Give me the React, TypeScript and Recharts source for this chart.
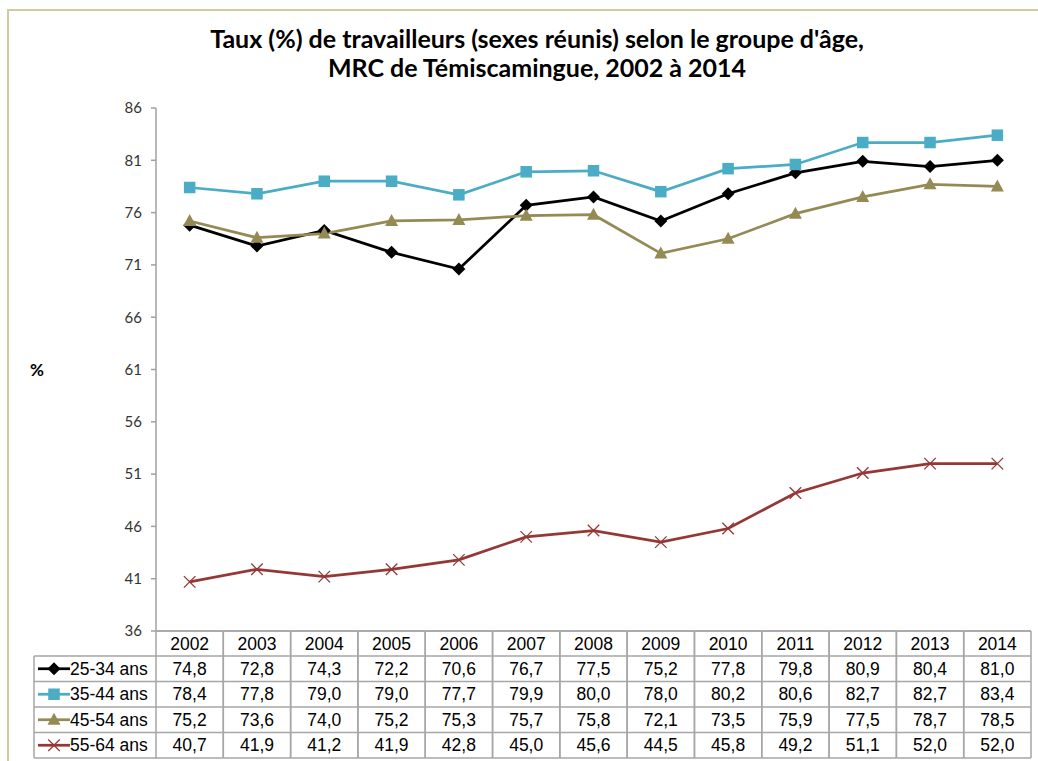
import React from 'react';
import { LineChart, Line, XAxis, YAxis } from 'recharts';

const years = ['2002', '2003', '2004', '2005', '2006', '2007', '2008', '2009', '2010', '2011', '2012', '2013', '2014'];
const s2534 = [74.8, 72.8, 74.3, 72.2, 70.6, 76.7, 77.5, 75.2, 77.8, 79.8, 80.9, 80.4, 81.0];
const s3544 = [78.4, 77.8, 79.0, 79.0, 77.7, 79.9, 80.0, 78.0, 80.2, 80.6, 82.7, 82.7, 83.4];
const s4554 = [75.2, 73.6, 74.0, 75.2, 75.3, 75.7, 75.8, 72.1, 73.5, 75.9, 77.5, 78.7, 78.5];
const s5564 = [40.7, 41.9, 41.2, 41.9, 42.8, 45.0, 45.6, 44.5, 45.8, 49.2, 51.1, 52.0, 52.0];
const seriesNames = ['25-34 ans', '35-44 ans', '45-54 ans', '55-64 ans'];
const seriesKeys = ['a', 'b', 'c', 'd'];
const seriesValues = [s2534, s3544, s4554, s5564];
const seriesColors = ['#000000', '#4BACC6', '#948A54', '#953735'];
const yTicks = [36, 41, 46, 51, 56, 61, 66, 71, 76, 81, 86];
const titleLines = ["Taux (%) de travailleurs (sexes réunis) selon le groupe d'âge,", 'MRC de Témiscamingue, 2002 à 2014'];

const data = years.map((year, i) => ({
  year,
  a: s2534[i],
  b: s3544[i],
  c: s4554[i],
  d: s5564[i],
}));

const COL_W = 67.3;
const ROW_B = [0, 25, 50.5, 76, 101.5, 127];
const GRID = '#A6A6A6';
const TABLE_FONT = '"Liberation Sans", Arial, sans-serif';
const fmt = (v: number) => v.toFixed(1).replace('.', ',');

const Marker = ({ kind, cx, cy, color }: { kind: number; cx: number; cy: number; color: string }) => {
  if (kind === 0) {
    const r = 6.5;
    return <polygon points={`${cx},${cy - r} ${cx + r},${cy} ${cx},${cy + r} ${cx - r},${cy}`} fill={color} />;
  }
  if (kind === 1) {
    const r = 5.75;
    return <rect x={cx - r} y={cy - r} width={2 * r} height={2 * r} fill={color} />;
  }
  if (kind === 2) {
    return <polygon points={`${cx},${cy - 7} ${cx + 6.5},${cy + 5} ${cx - 6.5},${cy + 5}`} fill={color} />;
  }
  const r = 5.75;
  return (
    <g stroke={color} strokeWidth={1.3}>
      <line x1={cx - r} y1={cy - r} x2={cx + r} y2={cy + r} />
      <line x1={cx - r} y1={cy + r} x2={cx + r} y2={cy - r} />
    </g>
  );
};

const makeDot = (kind: number, color: string) => (props: any) => {
  const { cx, cy, index } = props;
  if (cx == null || cy == null) return <g key={`n${kind}-${index}`} />;
  return (
    <g key={`d${kind}-${index}`}>
      <Marker kind={kind} cx={cx} cy={cy} color={color} />
    </g>
  );
};

const TableTick = (props: any) => {
  const { x, y, payload, index } = props;
  const left = x - COL_W / 2;
  const right = x + COL_W / 2;
  const idx = typeof index === 'number' ? index : years.indexOf(String(payload.value));
  const cells = [String(payload.value), ...seriesValues.map((s) => fmt(s[idx]))];
  return (
    <g>
      {ROW_B.map((b, i) => (
        <line key={`h${i}`} x1={left} x2={right} y1={y + b} y2={y + b} stroke={GRID} strokeWidth={1.5} />
      ))}
      <line x1={left} x2={left} y1={y} y2={y + ROW_B[5]} stroke={GRID} strokeWidth={1.5} />
      <line x1={right} x2={right} y1={y} y2={y + ROW_B[5]} stroke={GRID} strokeWidth={1.5} />
      {cells.map((t, i) => (
        <text
          key={`t${i}`}
          x={x}
          y={(y + ROW_B[i] + y + ROW_B[i + 1]) / 2 + 6}
          textAnchor="middle"
          fontFamily={TABLE_FONT}
          fontSize={17.5}
          fill="#000"
        >
          {t}
        </text>
      ))}
    </g>
  );
};

export default function App() {
  const rowTop = 631;
  const labelLeft = 34;
  const labelRight = 156.7;
  return (
    <div style={{ position: 'relative', width: 1038, height: 761, background: '#fff', overflow: 'hidden' }}>
      <style>{'body{margin:0;overflow:hidden;background:#fff}'}</style>
      <div
        style={{
          position: 'absolute',
          left: 7,
          top: 9,
          width: 1100,
          height: 900,
          border: '2.5px solid #D3C9A2',
          boxSizing: 'border-box',
        }}
      />
      <div style={{ position: 'absolute', left: 0, top: 0 }}>
        <LineChart width={1038} height={761} data={data} margin={{ top: 108, right: 7, left: 0, bottom: 0 }}>
          <XAxis
            dataKey="year"
            height={130}
            tick={<TableTick />}
            tickLine={false}
            tickSize={0}
            tickMargin={0}
            axisLine={{ stroke: GRID, strokeWidth: 1.5 }}
            padding={{ left: 33.65, right: 33.65 }}
            interval={0}
          />
          <YAxis
            width={156}
            domain={[36, 86]}
            ticks={yTicks}
            interval={0}
            allowDataOverflow
            axisLine={{ stroke: '#A0A0A0', strokeWidth: 1.5 }}
            tickLine={{ stroke: '#A0A0A0', strokeWidth: 1.5 }}
            tickSize={5}
            tickMargin={9}
            tick={{ fontFamily: 'Lato, "Open Sans", sans-serif', fontSize: 15, fill: '#333' }}
          />
          {seriesKeys.map((k, i) => (
            <Line
              key={k}
              dataKey={k}
              name={seriesNames[i]}
              stroke={seriesColors[i]}
              strokeWidth={2.75}
              dot={makeDot(i, seriesColors[i])}
              activeDot={false}
              isAnimationActive={false}
            />
          ))}
        </LineChart>
      </div>
      <svg
        width={1038}
        height={761}
        style={{ position: 'absolute', left: 0, top: 0, pointerEvents: 'none' }}
      >
        {titleLines.map((t, i) => (
          <text
            key={t}
            x={537}
            y={48 + i * 29}
            textAnchor="middle"
            fontFamily='Lato, "Open Sans", sans-serif'
            fontWeight="bold"
            fontSize={25}
            fill="#000"
          >
            {t}
          </text>
        ))}
        <text x={37} y={376} textAnchor="middle" fontFamily='Lato, "Open Sans", sans-serif' fontWeight="bold" fontSize={17} fill="#000">
          %
        </text>
        {[1, 2, 3, 4, 5].map((r) => (
          <line
            key={`rh${r}`}
            x1={labelLeft}
            x2={labelRight}
            y1={rowTop + ROW_B[r]}
            y2={rowTop + ROW_B[r]}
            stroke={GRID}
            strokeWidth={1.5}
          />
        ))}
        <line x1={labelLeft} x2={labelLeft} y1={rowTop + ROW_B[1]} y2={rowTop + ROW_B[5]} stroke={GRID} strokeWidth={1.5} />
        {seriesNames.map((n, i) => {
          const cy = rowTop + (ROW_B[i + 1] + ROW_B[i + 2]) / 2;
          return (
            <g key={n}>
              <line x1={38} x2={70} y1={cy} y2={cy} stroke={seriesColors[i]} strokeWidth={2.75} />
              <Marker kind={i} cx={54} cy={cy} color={seriesColors[i]} />
              <text x={70} y={cy + 6} fontFamily={TABLE_FONT} fontSize={17.5} fill="#000">
                {n}
              </text>
            </g>
          );
        })}
      </svg>
    </div>
  );
}
